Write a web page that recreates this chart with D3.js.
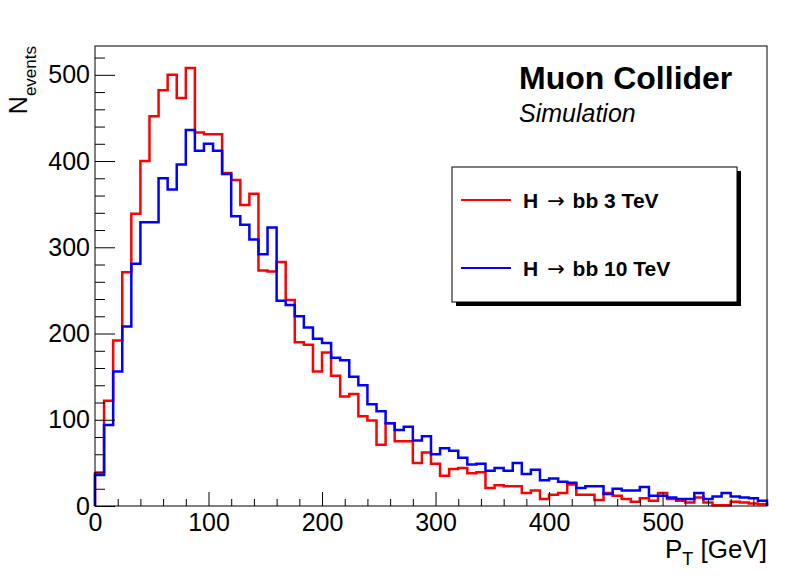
<!DOCTYPE html>
<html>
<head>
<meta charset="utf-8">
<script src="https://cdn.jsdelivr.net/npm/d3@7"></script>
<style>
  html, body { margin: 0; padding: 0; background: #fff; }
  svg { display: block; }
  text { font-family: "Liberation Sans", Arial, Helvetica, sans-serif; fill: #000; }
</style>
</head>
<body>
<svg id="chart" width="798" height="576"></svg>
<script>
// ---- data ----
const binLow = 0;
const binWidth = 8;
const seriesNames = ["H \u2192 bb 3 TeV", "H \u2192 bb 10 TeV"];
const seriesColors = ["#ff0000", "#0000ff"];
const red3TeV = [38,122,192,271,339,400,452,482,500,473,508,433,431,431,386,378,349,362,273,272,
  283,239,190,187,156,178,151,127,130,104,99,71,96,75,75,50,62,49,35,43,
  44,38,39,21,24,23,23,15,18,8,13,15,25,13,13,7,15,12,8,5,
  9,6,15,8,6,4,10,4,1,1,5,4,3,2];
const blue10TeV = [36,94,156,208,281,329,329,380,367,396,436,412,420,412,385,336,326,309,292,323,
  238,233,220,207,194,189,172,169,150,140,118,110,96,88,92,76,81,60,67,64,
  56,48,49,41,44,41,50,37,42,30,32,28,27,21,23,23,14,20,18,18,
  22,12,12,10,8,8,15,8,11,15,11,10,9,6];
const xMajorTicks = [0,100,200,300,400,500];
const yMajorTicks = [0,100,200,300,400,500];
const xTitle = "P", xTitleSub = "T", xTitleUnit = " [GeV]";
const yTitle = "N", yTitleSub = "events";
const label1 = "Muon Collider", label2 = "Simulation";

// ---- layout ----
const svg = d3.select("#chart");
const L = 95, R = 767, T = 46, B = 506;
const nBins = red3TeV.length;
const xMax = binLow + nBins * binWidth;
const yMax = 508 * 1.05;
const x = d3.scaleLinear().domain([binLow, xMax]).range([L, R]);
const y = d3.scaleLinear().domain([0, yMax]).range([B, T]);

svg.append("rect").attr("width", 798).attr("height", 576).attr("fill", "#fff");

function histPath(vals) {
  const pts = [[binLow, 0]];
  vals.forEach((v, i) => {
    const lo = binLow + i * binWidth, hi = lo + binWidth;
    pts.push([lo, v]); pts.push([hi, v]);
  });
  pts.push([xMax, 0]);
  return d3.line().x(d => x(d[0])).y(d => y(d[1]))(pts);
}

const plot = svg.append("g");
[red3TeV, blue10TeV].forEach((vals, k) => {
  plot.append("path").attr("d", histPath(vals))
    .attr("fill", "none").attr("stroke", seriesColors[k])
    .attr("stroke-width", 2.5).attr("stroke-linejoin", "miter");
});

// ---- axes ----
const xMinor = d3.range(0, xMax + 0.01, 20).filter(v => v % 100 !== 0);
const yMinor = d3.range(0, yMax, 20).filter(v => v % 100 !== 0);

function styleAxis(g, fs) {
  g.select(".domain").remove();
  g.selectAll("line").attr("stroke", "#000").attr("stroke-width", 1);
  g.selectAll("text").attr("font-size", fs).attr("fill", "#000")
    .attr("font-family", "'Liberation Sans', Arial, Helvetica, sans-serif");
}

const gx = svg.append("g").attr("transform", `translate(0,${B})`)
  .call(d3.axisBottom(x).tickValues(xMajorTicks).tickSize(-14).tickPadding(7).tickFormat(d3.format("d")));
styleAxis(gx, 25);
gx.selectAll("text").attr("dy", "0.71em").attr("y", 7);
const gxm = svg.append("g").attr("transform", `translate(0,${B})`)
  .call(d3.axisBottom(x).tickValues(xMinor).tickSize(-7).tickFormat(""));
styleAxis(gxm, 25);

const gy = svg.append("g").attr("transform", `translate(${L},0)`)
  .call(d3.axisLeft(y).tickValues(yMajorTicks).tickSize(-20).tickPadding(5).tickFormat(d3.format("d")));
styleAxis(gy, 25);
gy.selectAll("text").attr("x", -5);
const gym = svg.append("g").attr("transform", `translate(${L},0)`)
  .call(d3.axisLeft(y).tickValues(yMinor).tickSize(-10).tickFormat(""));
styleAxis(gym, 25);

// frame
svg.append("rect").attr("x", L).attr("y", T).attr("width", R - L).attr("height", B - T)
  .attr("fill", "none").attr("stroke", "#000").attr("stroke-width", 1);

// axis titles
const xt = svg.append("text").attr("x", R).attr("y", 558).attr("text-anchor", "end").attr("font-size", 26);
xt.append("tspan").text(xTitle);
xt.append("tspan").attr("font-size", 18).attr("dy", 7).text(xTitleSub);
xt.append("tspan").attr("dy", -7).text(xTitleUnit);

const yt = svg.append("text").attr("transform", `translate(27,${T}) rotate(-90)`)
  .attr("text-anchor", "end").attr("font-size", 25);
yt.append("tspan").text(yTitle);
yt.append("tspan").attr("font-size", 17).attr("dy", 9).text(yTitleSub);

// labels
svg.append("text").attr("x", 519).attr("y", 89).attr("font-size", 32).attr("font-weight", "bold").text(label1);
svg.append("text").attr("x", 519).attr("y", 122).attr("font-size", 25).attr("font-style", "italic").text(label2);

// legend
const lg = svg.append("g");
lg.append("rect").attr("x", 456).attr("y", 171).attr("width", 285).attr("height", 135).attr("fill", "#000");
lg.append("rect").attr("x", 452).attr("y", 167).attr("width", 285).attr("height", 135)
  .attr("fill", "#fff").attr("stroke", "#000").attr("stroke-width", 1);
const legY = [200, 268];
seriesNames.forEach((name, k) => {
  lg.append("line").attr("x1", 461).attr("x2", 511).attr("y1", legY[k]).attr("y2", legY[k])
    .attr("stroke", seriesColors[k]).attr("stroke-width", 2);
  const parts = name.split("\u2192");
  const t = lg.append("text").attr("x", 523).attr("y", legY[k]).attr("dy", "0.36em")
    .attr("font-size", 21).attr("font-weight", "bold");
  t.append("tspan").text(parts[0].trim());
  t.append("tspan").attr("font-weight", "normal").attr("font-family", "'DejaVu Sans', sans-serif")
    .attr("dx", 9).text("\u2192");
  t.append("tspan").attr("dx", 2).text(parts[1]);
});
</script>
</body>
</html>
